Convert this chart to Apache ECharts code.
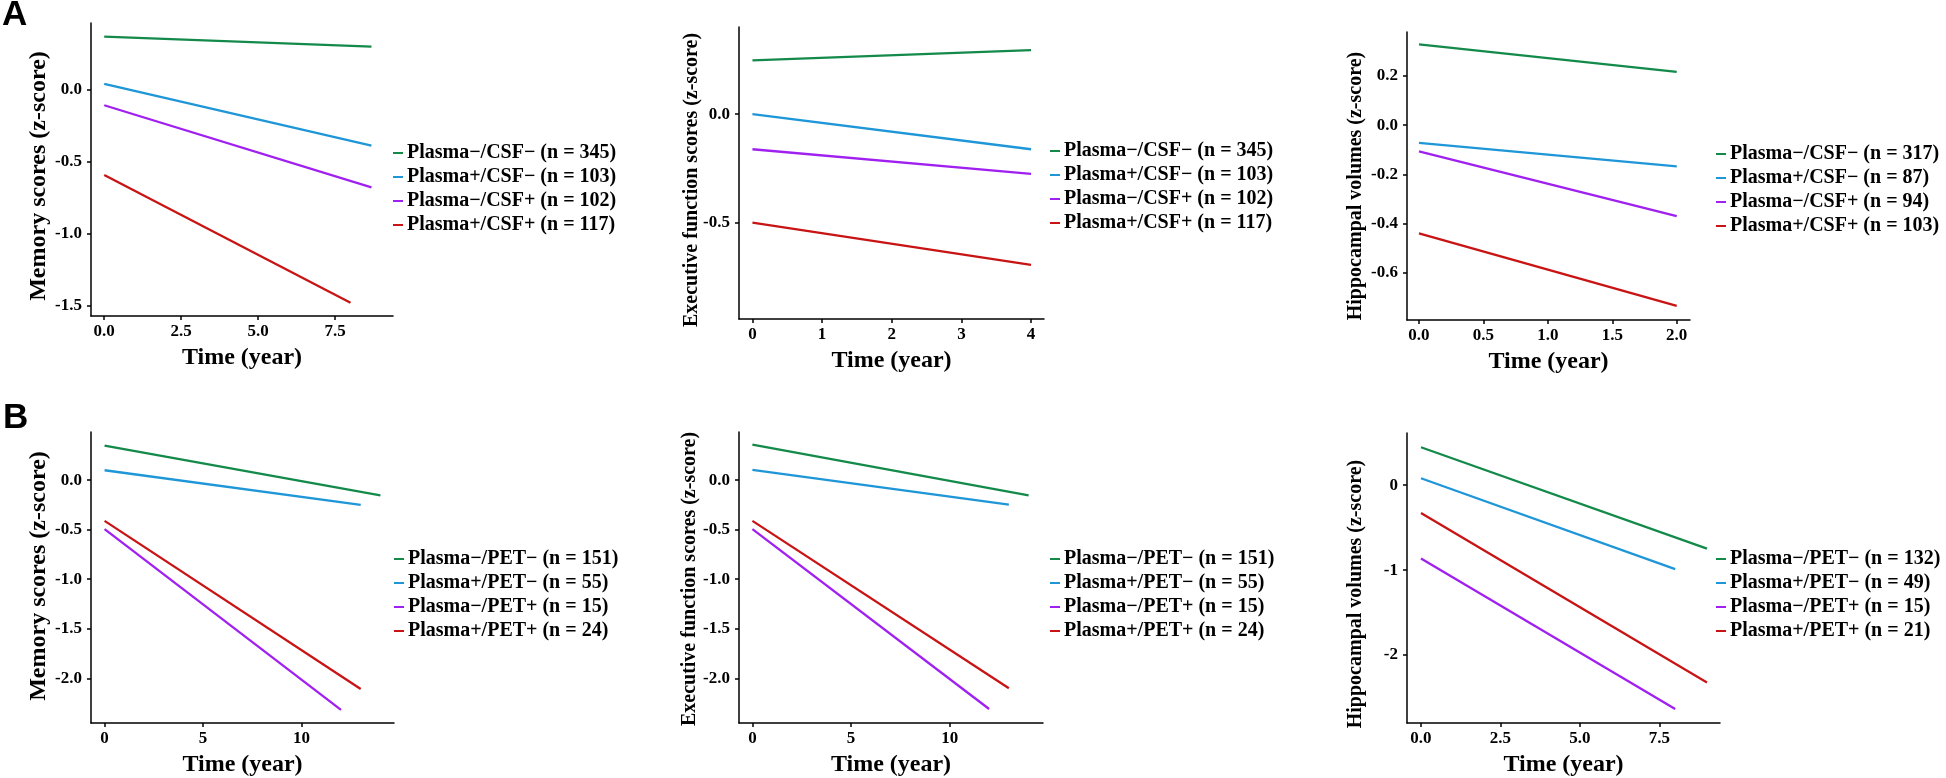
<!DOCTYPE html>
<html>
<head>
<meta charset="utf-8">
<script src="https://cdn.jsdelivr.net/npm/echarts@6/dist/echarts.min.js"></script>
<style>
html,body{margin:0;padding:0;background:#fff;}
#chart{width:1946px;height:778px;}
</style>
</head>
<body>
<div id="chart"></div>
<script>
// ---------------- DATA ----------------
const groupsCSF = ['Plasma\u2212/CSF\u2212', 'Plasma+/CSF\u2212', 'Plasma\u2212/CSF+', 'Plasma+/CSF+'];
const groupsPET = ['Plasma\u2212/PET\u2212', 'Plasma+/PET\u2212', 'Plasma\u2212/PET+', 'Plasma+/PET+'];
const colors = ['#138a4a', '#1e96d7', '#a020f0', '#c81414'];

const nA1 = [345, 103, 102, 117];
const nA2 = [345, 103, 102, 117];
const nA3 = [317, 87, 94, 103];
const nB1 = [151, 55, 15, 24];
const nB2 = [151, 55, 15, 24];
const nB3 = [132, 49, 15, 21];

// time span end per group (all start at 0), fitted value at start / end
const tEndA1 = [8.68, 8.68, 8.68, 8.0];
const yStartA1 = [0.365, 0.037, -0.111, -0.595];
const yEndA1 = [0.296, -0.392, -0.681, -1.482];

const tEndA2 = [4, 4, 4, 4];
const yStartA2 = [0.248, 0.0, -0.162, -0.5];
const yEndA2 = [0.295, -0.162, -0.276, -0.695];

const tEndA3 = [2, 2, 2, 2];
const yStartA3 = [0.329, -0.072, -0.106, -0.44];
const yEndA3 = [0.217, -0.167, -0.37, -0.735];

const tEndB1 = [14, 13, 12, 13];
const yStartB1 = [0.348, 0.10, -0.495, -0.411];
const yEndB1 = [-0.154, -0.25, -2.318, -2.107];

const tEndB2 = [14, 13, 12, 13];
const yStartB2 = [0.358, 0.104, -0.495, -0.411];
const yEndB2 = [-0.154, -0.247, -2.31, -2.10];

const tEndB3 = [9, 8, 8, 9];
const yStartB3 = [0.447, 0.082, -0.864, -0.327];
const yEndB3 = [-0.747, -0.988, -2.634, -2.323];

// tick labels
const xTicksA1 = ['0.0', '2.5', '5.0', '7.5'];
const xTicksA2 = ['0', '1', '2', '3', '4'];
const xTicksA3 = ['0.0', '0.5', '1.0', '1.5', '2.0'];
const xTicksB1 = ['0', '5', '10'];
const xTicksB2 = ['0', '5', '10'];
const xTicksB3 = ['0.0', '2.5', '5.0', '7.5'];
const yTicksA1 = ['0.0', '-0.5', '-1.0', '-1.5'];
const yTicksA2 = ['0.0', '-0.5'];
const yTicksA3 = ['0.2', '0.0', '-0.2', '-0.4', '-0.6'];
const yTicksB1 = ['0.0', '-0.5', '-1.0', '-1.5', '-2.0'];
const yTicksB2 = ['0.0', '-0.5', '-1.0', '-1.5', '-2.0'];
const yTicksB3 = ['0', '-1', '-2'];

const yTitleMemory = 'Memory scores (z-score)';
const yTitleExec = 'Executive function scores (z-score)';
const yTitleHippo = 'Hippocampal volumes (z-score)';
const xTitle = 'Time (year)';

// ---------------- LAYOUT ----------------
const SERIF = '"Liberation Serif", "Times New Roman", serif';
const panels = [
  {groups: groupsCSF, n: nA1, tEnd: tEndA1, y0: yStartA1, y1: yEndA1, xt: xTicksA1, yt: yTicksA1, yTitle: yTitleMemory, yTitleSize: 24, yTitlePos: [39, 176],
   grid: {left: 91, top: 23, width: 302, height: 293}, xr: [-0.43, 9.38], yr: [-1.574, 0.46], legend: {left: 393, top: 143}},
  {groups: groupsCSF, n: nA2, tEnd: tEndA2, y0: yStartA2, y1: yEndA2, xt: xTicksA2, yt: yTicksA2, yTitle: yTitleExec, yTitleSize: 20, yTitlePos: [692, 180],
   grid: {left: 739, top: 27, width: 305, height: 292}, xr: [-0.193, 4.186], yr: [-0.945, 0.402], legend: {left: 1050, top: 141}},
  {groups: groupsCSF, n: nA3, tEnd: tEndA3, y0: yStartA3, y1: yEndA3, xt: xTicksA3, yt: yTicksA3, yTitle: yTitleHippo, yTitleSize: 20, yTitlePos: [1356, 186],
   grid: {left: 1407, top: 32, width: 283, height: 288}, xr: [-0.093, 2.103], yr: [-0.792, 0.379], legend: {left: 1716, top: 144}},
  {groups: groupsPET, n: nB1, tEnd: tEndB1, y0: yStartB1, y1: yEndB1, xt: xTicksB1, yt: yTicksB1, yTitle: yTitleMemory, yTitleSize: 24, yTitlePos: [39, 576],
   grid: {left: 91, top: 432, width: 303, height: 293}, xr: [-0.69, 14.69], yr: [-2.451, 0.486], legend: {left: 394, top: 549}},
  {groups: groupsPET, n: nB2, tEnd: tEndB2, y0: yStartB2, y1: yEndB2, xt: xTicksB2, yt: yTicksB2, yTitle: yTitleExec, yTitleSize: 20, yTitlePos: [690, 579],
   grid: {left: 739, top: 432, width: 304, height: 293}, xr: [-0.68, 14.73], yr: [-2.451, 0.486], legend: {left: 1050, top: 549}},
  {groups: groupsPET, n: nB3, tEnd: tEndB3, y0: yStartB3, y1: yEndB3, xt: xTicksB3, yt: yTicksB3, yTitle: yTitleHippo, yTitleSize: 20, yTitlePos: [1356, 594],
   grid: {left: 1407, top: 433, width: 313, height: 293}, xr: [-0.44, 9.41], yr: [-2.80, 0.615], legend: {left: 1716, top: 549}}
];

function labelFormatter(labels) {
  const vals = labels.map(Number);
  return function (v) {
    for (let i = 0; i < vals.length; i++) if (Math.abs(vals[i] - v) < 1e-9) return labels[i];
    return '';
  };
}

const grid = [], xAxis = [], yAxis = [], series = [], legend = [], graphic = [];
panels.forEach((p, i) => {
  grid.push(Object.assign({containLabel: false}, p.grid));
  const axisCommon = {
    type: 'value',
    gridIndex: i,
    splitLine: {show: false},
    axisLine: {show: true, onZero: false, lineStyle: {color: '#000', width: 1.5}}
  };
  xAxis.push(Object.assign({}, axisCommon, {
    min: p.xr[0], max: p.xr[1],
    axisTick: {show: true, length: 4, lineStyle: {color: '#000', width: 1.5}, customValues: p.xt.map(Number)},
    axisLabel: {customValues: p.xt.map(Number), formatter: labelFormatter(p.xt), margin: 7,
      fontFamily: SERIF, fontWeight: 'bold', fontSize: 17, color: '#000'},
    name: xTitle, nameLocation: 'middle', nameGap: 30,
    nameTextStyle: {fontFamily: SERIF, fontWeight: 'bold', fontSize: 24, color: '#000'}
  }));
  yAxis.push(Object.assign({}, axisCommon, {
    min: p.yr[0], max: p.yr[1],
    axisTick: {show: true, length: 4, lineStyle: {color: '#000', width: 1.5}, customValues: p.yt.map(Number)},
    axisLabel: {customValues: p.yt.map(Number), formatter: labelFormatter(p.yt), margin: 9,
      fontFamily: SERIF, fontWeight: 'bold', fontSize: 17, color: '#000'}
  }));
  // y-axis title (rotated)
  graphic.push({
    type: 'text', x: p.yTitlePos[0], y: p.yTitlePos[1], rotation: Math.PI / 2,
    style: {text: p.yTitle, font: 'bold ' + p.yTitleSize + 'px ' + SERIF, fill: '#000',
      align: 'center', verticalAlign: 'middle', textAlign: 'center', textVerticalAlign: 'middle'}
  });
  const names = [];
  p.groups.forEach((g, k) => {
    const name = g + ' (n = ' + p.n[k] + ')';
    names.push(name);
    series.push({
      type: 'line', name: name, xAxisIndex: i, yAxisIndex: i,
      data: [[0, p.y0[k]], [p.tEnd[k], p.y1[k]]],
      showSymbol: false, symbol: 'none',
      lineStyle: {color: colors[k], width: 2.3},
      itemStyle: {color: colors[k]},
      z: 2
    });
  });
  legend.push({
    data: names, orient: 'vertical', left: p.legend.left, top: p.legend.top,
    icon: 'rect', itemWidth: 10, itemHeight: 2, itemGap: 4, padding: 0,
    selectedMode: false,
    textStyle: {fontFamily: SERIF, fontWeight: 'bold', fontSize: 20, lineHeight: 20, color: '#000', padding: [0, 0, 0, -1]}
  });
});

graphic.push(
  {type: 'text', left: 2, top: -2, style: {text: 'A', font: 'bold 35px "Liberation Sans", Arial, sans-serif', fill: '#000'}},
  {type: 'text', left: 3, top: 401, style: {text: 'B', font: 'bold 35px "Liberation Sans", Arial, sans-serif', fill: '#000'}}
);

const chart = echarts.init(document.getElementById('chart'), null, {renderer: 'canvas'});
chart.setOption({
  backgroundColor: '#fff',
  animation: false,
  grid, xAxis, yAxis, series, legend, graphic
});
</script>
</body>
</html>
